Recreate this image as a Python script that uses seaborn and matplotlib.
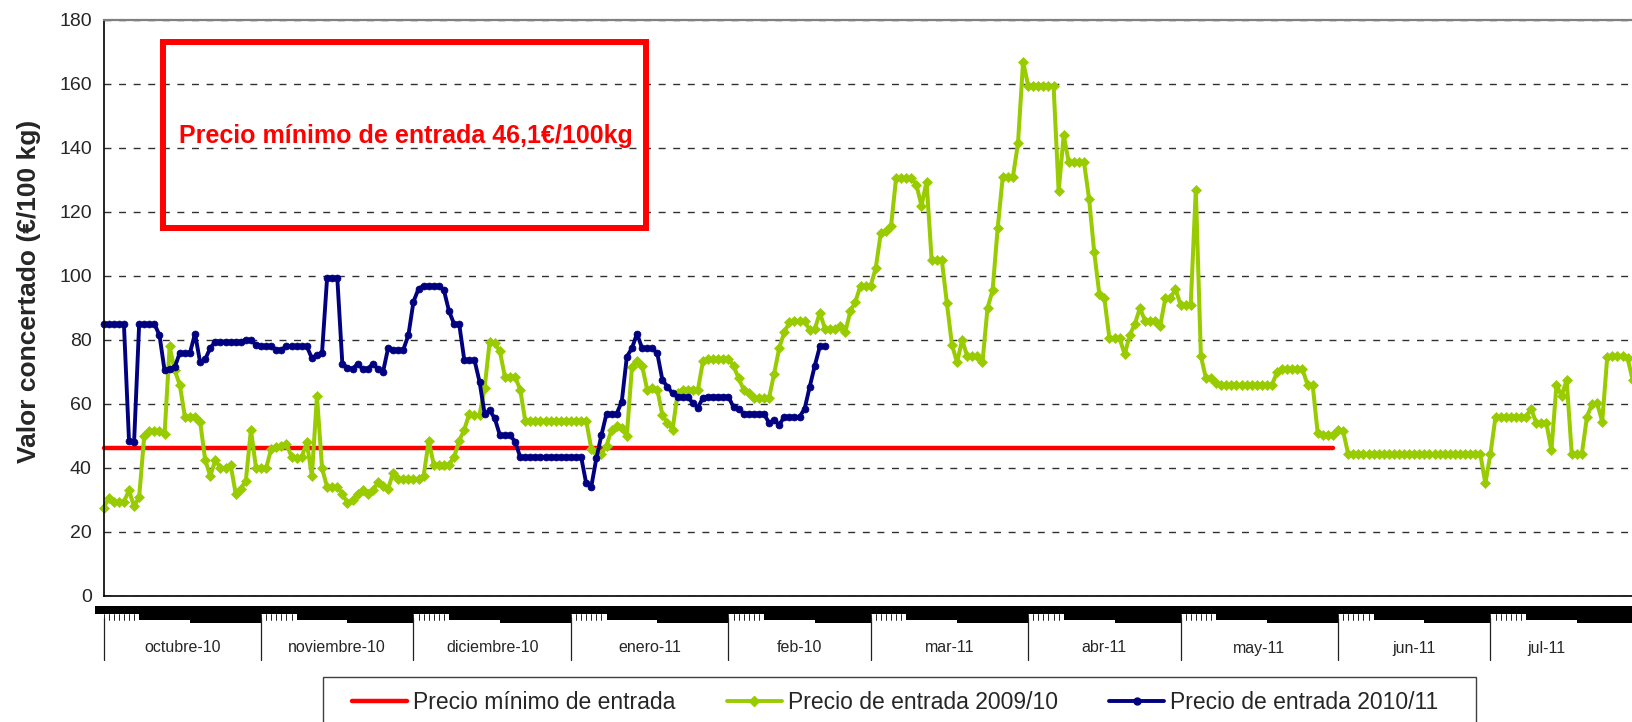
import numpy as np
import matplotlib.pyplot as plt
import matplotlib.transforms as mtransforms
from matplotlib.patches import Rectangle
from matplotlib.lines import Line2D
import seaborn as sns

# Meses del eje (etiquetas tal como aparecen) y dias de cada mes
meses = ["octubre-10", "noviembre-10", "diciembre-10", "enero-11", "feb-10",
         "mar-11", "abr-11", "may-11", "jun-11", "jul-11"]
dias_mes = [31, 30, 31, 31, 28, 31, 30, 31, 30, 31]

# Precio minimo de entrada (constante) y numero de dias en que se dibuja
precio_minimo = 46.1
dias_precio_minimo = 243

# Precio de entrada 2009/10 (un valor por dia desde el 1 de octubre)
precio_2009_10 = [
    27.6, 30.5, 29.5, 29.5, 29.5, 33, 28, 31, 50, 51.5,
    51.5, 51.5, 50.5, 78, 70.5, 66, 56, 56, 56, 54.5,
    42.5, 37.5, 42.5, 40, 40, 41, 32, 33.5, 36, 52,
    40, 40, 40, 46, 46.5, 47, 47.5, 43.5, 43, 43.5,
    48, 37.5, 62.5, 40, 34, 34, 34, 32, 29, 30,
    32, 33, 32, 33, 35.5, 34.5, 33.5, 38.5, 36.5, 36.5,
    36.5, 36.5, 36.5, 37.5, 48.5, 41, 41, 41, 41, 43.5,
    48.5, 52, 57, 56.5, 56.5, 65, 79.5, 79, 76.5, 68.5,
    68.5, 68.5, 64.5, 54.8, 54.8, 54.8, 54.8, 54.8, 54.8, 54.8,
    54.8, 54.8, 54.8, 54.8, 54.8, 54.8, 46, 45, 44.5, 47,
    52, 53, 52.5, 50, 71.5, 73.5, 72, 64.5, 65, 64.5,
    56.5, 54, 52, 63.5, 64.5, 64.5, 64.5, 64.5, 73.5, 74,
    74, 74, 74, 74, 72, 68, 64.5, 63.5, 62, 62,
    62, 62, 69.5, 77.5, 82.5, 85.5, 86, 86, 86, 83,
    83.5, 88.5, 83.5, 83.5, 83.5, 84.5, 82.5, 89, 92, 97,
    97, 97, 102.5, 113.5, 114, 115.5, 130.5, 130.5, 130.5, 130.5,
    128.5, 122, 129.5, 105, 105, 105, 91.5, 78.5, 73, 80,
    75, 75, 75, 73, 90, 95.5, 115, 131, 131, 131,
    141.5, 167, 159.5, 159.5, 159.5, 159.5, 159.5, 159.5, 126.5, 144,
    135.5, 135.5, 135.5, 135.5, 124, 107.5, 94.5, 93, 80.5, 80.5,
    80.5, 75.5, 81.5, 85, 90, 86, 86, 86, 84.5, 93,
    93, 96, 91, 91, 91, 127, 75, 68, 68, 66.5,
    66, 66, 66, 66, 66, 66, 66, 66, 66, 66,
    66, 70, 70.8, 70.8, 70.8, 70.8, 70.8, 66, 66, 50.8,
    50.3, 50.3, 50.3, 52, 51.5, 44.4, 44.4, 44.4, 44.4, 44.4,
    44.4, 44.4, 44.4, 44.4, 44.4, 44.4, 44.4, 44.4, 44.4, 44.4,
    44.4, 44.4, 44.4, 44.4, 44.4, 44.4, 44.4, 44.4, 44.4, 44.4,
    44.4, 44.4, 35.2, 44.4, 56, 56, 56, 56, 56, 56,
    56, 58.5, 54.2, 54.2, 54.2, 45.5, 66, 62.5, 67.5, 44.5,
    44.5, 44.5, 56, 60, 60.2, 54.5, 74.8, 75, 75, 75,
    74.3, 67.5,
]

# Precio de entrada 2010/11
precio_2010_11 = [
    85, 85, 85, 85, 85, 48.5, 48, 85, 85, 85,
    85, 81.5, 70.5, 71, 71.5, 76, 76, 76, 82, 73,
    74, 77.5, 79.5, 79.5, 79.5, 79.5, 79.5, 79.5, 80, 80,
    78.5, 78, 78, 78, 77, 77, 78, 78, 78, 78,
    78, 74.3, 75.3, 76, 99.5, 99.5, 99.5, 72.5, 71.4, 71,
    72.5, 71, 71, 72.5, 71, 70, 77.4, 77, 77, 77,
    81.5, 92, 96, 97, 97, 97, 97, 95.5, 89, 85,
    85, 73.75, 73.75, 73.75, 67, 57, 58, 55.5, 50.3, 50.3,
    50.3, 48.2, 43.5, 43.5, 43.5, 43.5, 43.5, 43.5, 43.5, 43.5,
    43.5, 43.5, 43.5, 43.5, 43.5, 35.2, 34.2, 43, 50.3, 57,
    57, 57, 60.7, 74.8, 77.4, 82, 77.4, 77.4, 77.4, 75.8,
    67.5, 65.4, 63.3, 62.3, 62.3, 62.3, 60.2, 58.9, 62, 62.3,
    62.3, 62.3, 62.3, 62.3, 59, 58.5, 57, 57, 57, 57,
    57, 54, 55, 53.5, 56, 56, 56, 56, 58.5, 65.4,
    72, 78, 78,
]

ROJO = "#FF0000"
VERDE = "#99CC00"
AZUL = "#000080"

sns.set_style("white")
plt.rcParams["font.family"] = ["Liberation Sans", "DejaVu Sans"]

W, H = 1632, 722
X0 = 103.6          # borde izquierdo del area de trazado (px)
PX_DIA = 5.08       # px por dia en la referencia
fig = plt.figure(figsize=(W / 100, H / 100), dpi=100)
ax = fig.add_axes([X0 / W, 1 - 596 / H, 1 - X0 / W, (596 - 20) / H])

# series
sns.lineplot(x=np.arange(dias_precio_minimo),
             y=np.full(dias_precio_minimo, precio_minimo),
             color=ROJO, lw=3.2, ax=ax)
sns.lineplot(x=np.arange(len(precio_2009_10)), y=precio_2009_10,
             color=VERDE, lw=2.9, marker="D", markersize=5,
             markeredgecolor=VERDE, markeredgewidth=0.5, ax=ax)
sns.lineplot(x=np.arange(len(precio_2010_11)), y=precio_2010_11,
             color=AZUL, lw=2.8, marker="o", markersize=5,
             markeredgecolor=AZUL, markeredgewidth=0.5, ax=ax)
for ln in ax.lines:
    ln.set_clip_on(False)

total_dias = sum(dias_mes)
x_max = (W - X0) / PX_DIA
ax.set_xticks(np.arange(0, int(x_max) + 1))
ax.set_xticklabels([])
ax.set_xlim(0, x_max)
ax.set_ylim(0, 180)
ax.set_yticks(np.arange(0, 181, 20))
ax.set_yticklabels([str(v) for v in range(0, 181, 20)],
                   family=["Liberation Sans Narrow", "Liberation Sans"], fontsize=14)
ax.tick_params(axis="x", length=7, width=0.6, color="black", direction="out")
ax.tick_params(axis="y", length=4.5, width=1, color="black", direction="out", pad=4)
ax.set_xlabel("")
ax.set_ylabel("")

ax.yaxis.grid(True, linestyle=(0, (5, 5.5)), color="#303030", lw=1)
ax.xaxis.grid(False)
ax.set_axisbelow(True)

for s in ["left", "bottom"]:
    ax.spines[s].set_color("black")
    ax.spines[s].set_linewidth(1.2)
ax.spines["top"].set_color("#808080")
ax.spines["top"].set_linewidth(1.6)
ax.spines["right"].set_visible(False)

# eje de categorias de varios niveles (como en Excel)
tr = mtransforms.blended_transform_factory(ax.transData, fig.transFigure)
def fy(px):
    return 1 - px / H

ax.add_patch(Rectangle((-1.6, fy(614)), total_dias + 2, 8 / H, transform=tr,
                       color="black", clip_on=False, lw=0))
inicio = np.concatenate([[0], np.cumsum(dias_mes)[:-1]])
for i, (ini, n, mes) in enumerate(zip(inicio, dias_mes, meses)):
    for d in range(ini, ini + 7):
        ax.add_line(Line2D([d, d], [fy(614), fy(620)], transform=tr, color="black",
                           lw=0.6, clip_on=False))
    ax.add_patch(Rectangle((ini + 7, fy(619.5)), n - 7, 5.5 / H, transform=tr,
                           color="black", clip_on=False, lw=0))
    ax.add_patch(Rectangle((ini + 17, fy(623)), n - 17, 9 / H, transform=tr,
                           color="black", clip_on=False, lw=0))
    ax.add_line(Line2D([ini, ini], [fy(618), fy(660)], transform=tr, color="#202020",
                       lw=0.9, clip_on=False))
    # el ultimo mes se ve cortado: su etiqueta se centra en la parte visible
    centro = ini + n / 2 if i < len(meses) - 1 else ini + 11
    ax.text(centro, fy(648), mes, transform=tr, ha="center", va="center",
            fontsize=11.5, clip_on=False)

# recuadro rojo con el texto
fig.patches.append(Rectangle((163 / W, fy(228)), (646 - 163) / W, (228 - 42) / H,
                             transform=fig.transFigure, fill=False, ec=ROJO, lw=4.3))
fig.text(406 / W, fy(136), "Precio mínimo de entrada 46,1€/100kg", color=ROJO,
         fontweight="bold", fontsize=18, ha="center", va="center")

fig.text(29 / W, fy(291), "Valor concertado (€/100 kg)", rotation=90,
         fontweight="bold", fontsize=19, ha="center", va="center")

# leyenda
handles = [
    Line2D([], [], color=ROJO, lw=3.2),
    Line2D([], [], color=VERDE, lw=2.8, marker="D", markersize=5),
    Line2D([], [], color=AZUL, lw=2.8, marker="o", markersize=5),
]
labels = ["Precio mínimo de entrada", "Precio de entrada 2009/10",
          "Precio de entrada 2010/11"]
fig.legend(handles, labels, loc="upper left", bbox_to_anchor=(352 / W, fy(691)),
           ncol=3, frameon=False, fontsize=16.5, handlelength=2.4,
           handletextpad=0.26, columnspacing=2.25, borderpad=0, borderaxespad=0)
fig.patches.append(Rectangle((323 / W, -0.05), (1476 - 323) / W, 0.05 + 1 - 677 / H,
                             transform=fig.transFigure, fill=False, ec="#404040", lw=1))

fig.savefig("out.png", dpi=100)
